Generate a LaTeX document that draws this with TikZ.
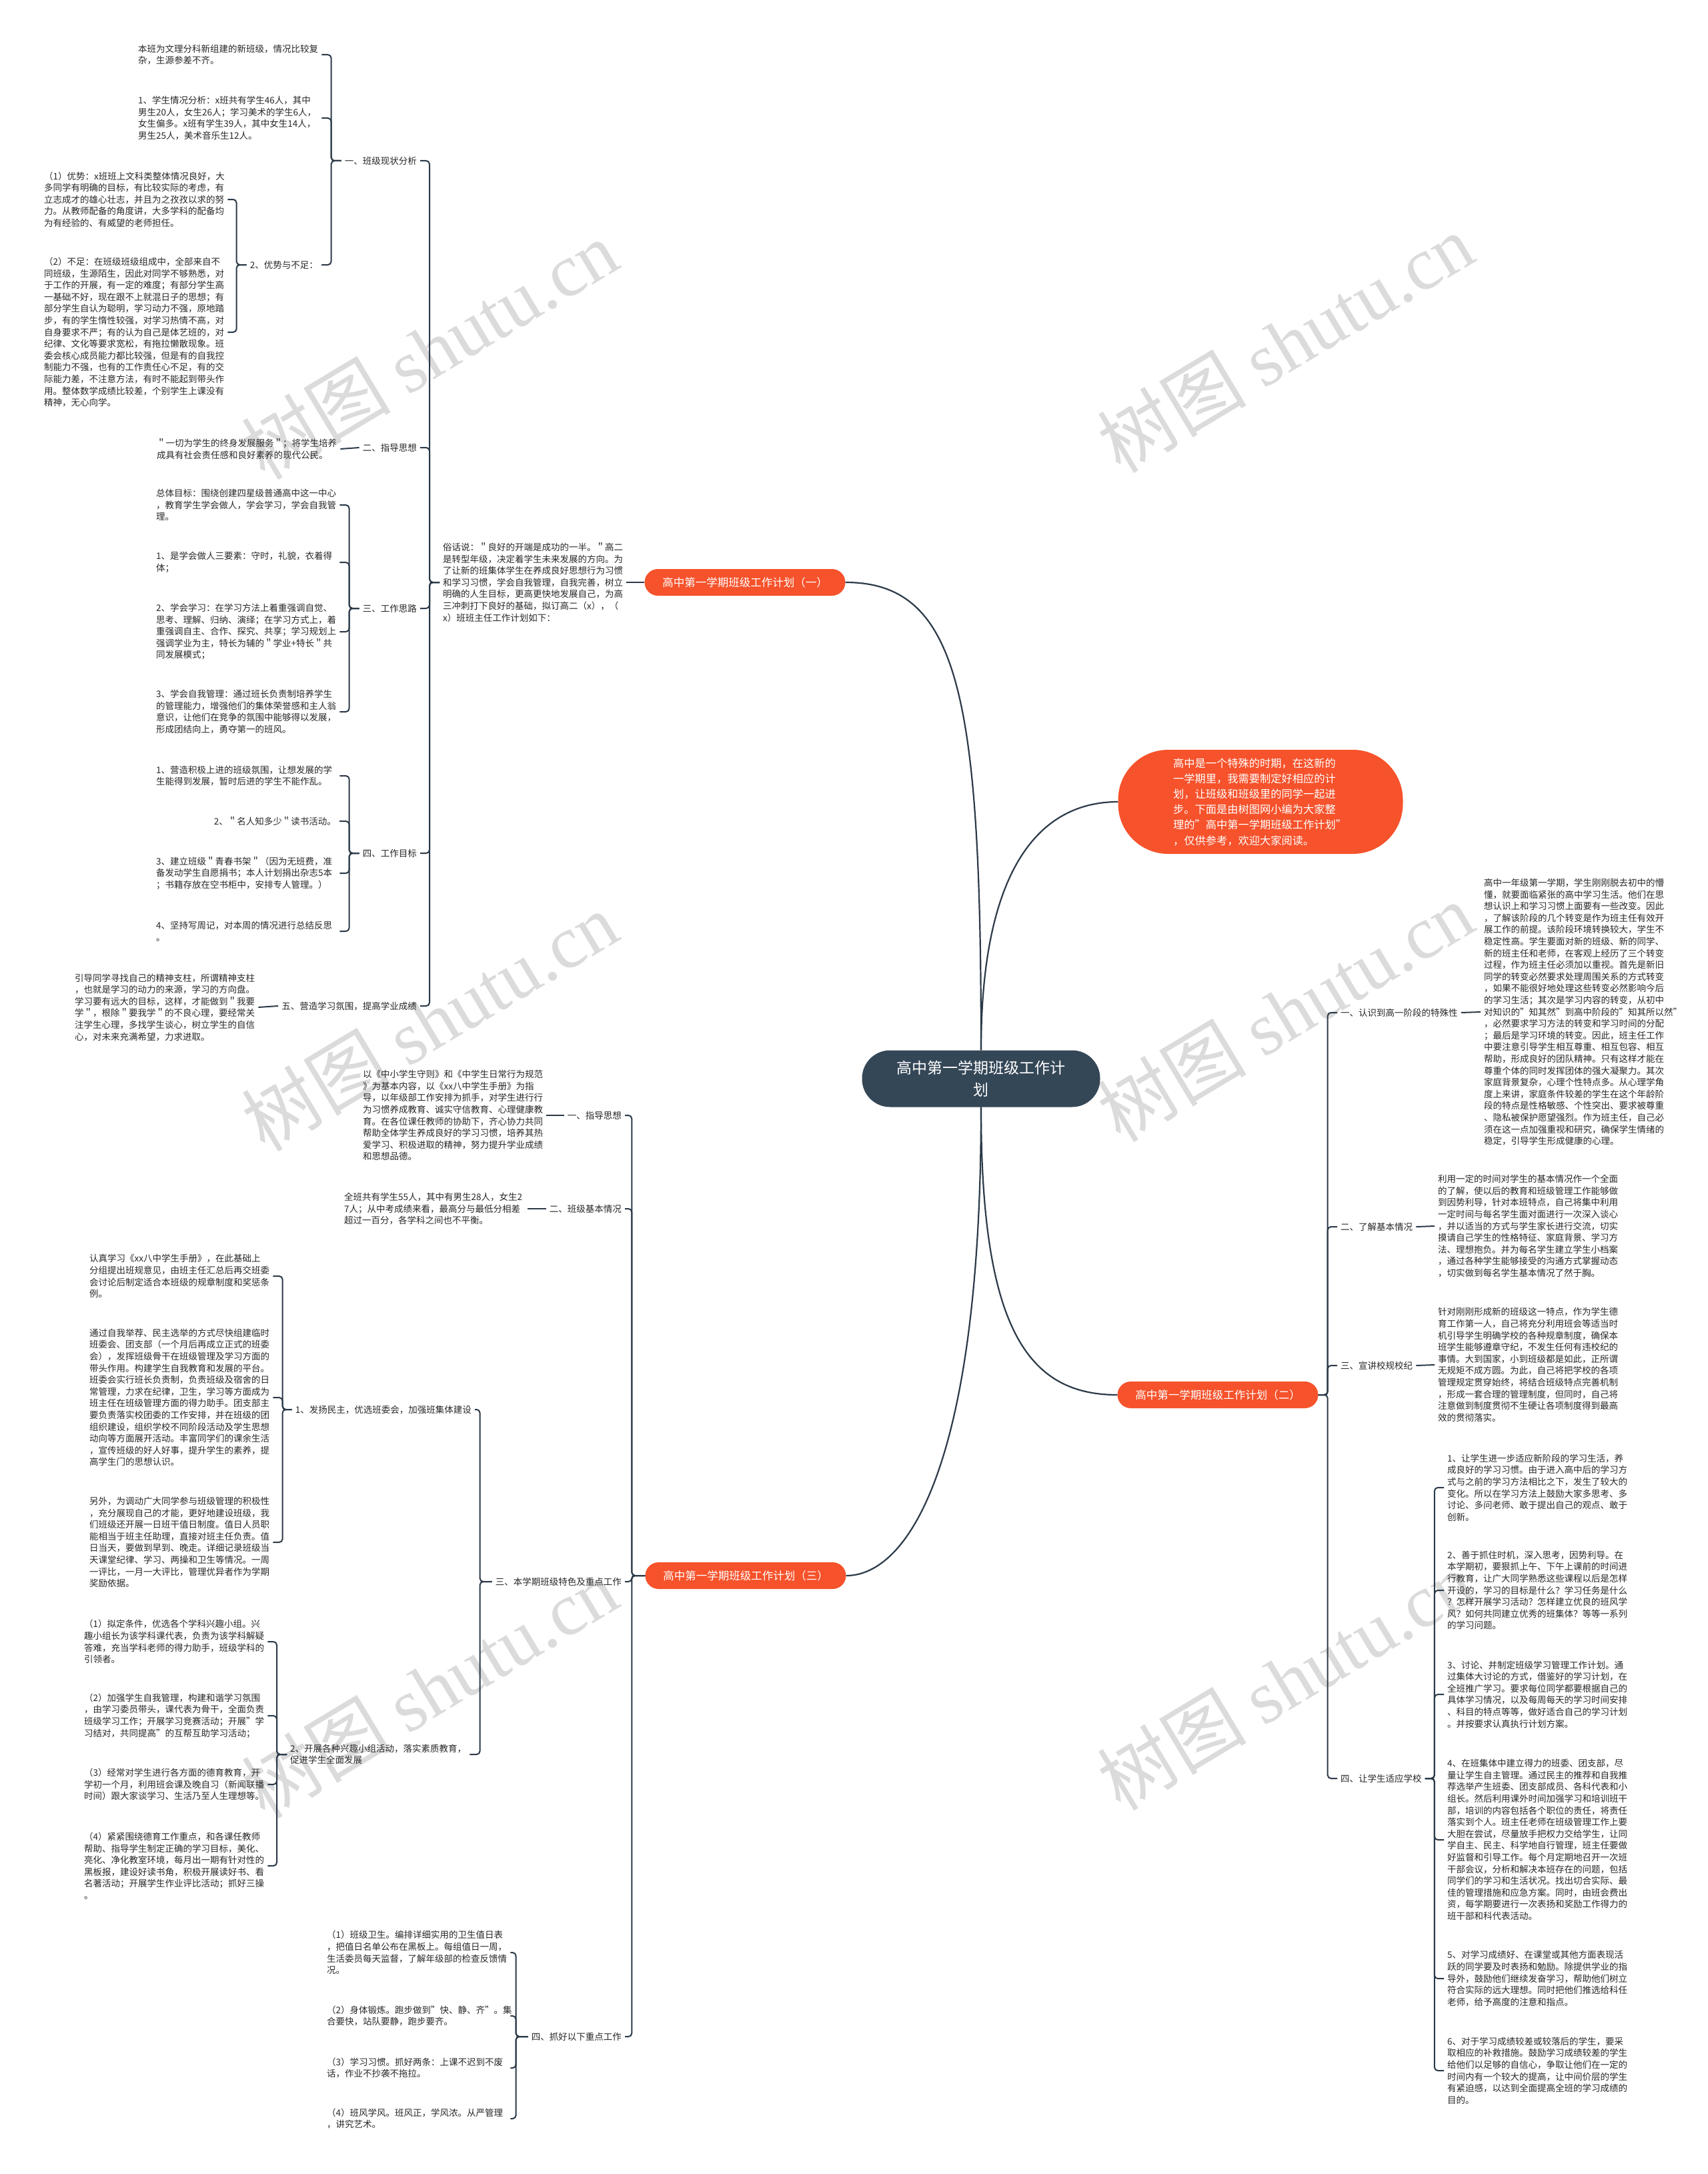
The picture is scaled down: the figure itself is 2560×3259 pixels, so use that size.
\documentclass[tikz,border=0pt]{standalone}
\usepackage{fontspec}
\setmainfont{Noto Sans CJK SC}
\newfontfamily\wmfont{Liberation Serif}
\usepackage{xcolor}
\usepackage{tikz}
\usetikzlibrary{positioning}
\definecolor{mapline}{RGB}{44,58,72}
\definecolor{rootfill}{RGB}{52,71,87}
\definecolor{mainorange}{RGB}{246,82,43}
\definecolor{bodytext}{RGB}{40,40,40}
\newcommand{\txtfont}{\fontsize{13.5}{17.6}\selectfont}
\tikzset{
  rootnode/.style={fill=rootfill,text=white,rounded corners=42pt,minimum width=357pt,minimum height=85pt,align=center,font=\fontsize{23}{32.5}\selectfont},
  mainnode/.style={fill=mainorange,text=white,rounded corners=20pt,minimum width=301pt,minimum height=40pt,font=\fontsize{16.5}{20}\selectfont},
  introbox/.style={fill=mainorange,text=white,rounded corners=75pt,minimum width=427pt,minimum height=156pt,text width=262pt,align=left,font=\fontsize{16.25}{23.2}\selectfont},
  sect/.style={inner sep=5pt,text=bodytext,font=\txtfont,align=left},
  para/.style={sect,text width=270pt},
  tie/.style={draw=mapline,line width=2pt,rounded corners=5pt},
  curve/.style={draw=mapline,line width=2.2pt},
  wmark/.style={text=gray!28,font=\fontsize{112}{112}\selectfont,rotate=31,inner sep=0pt}
}

\begin{document}
\begin{tikzpicture}[x=1pt,y=-1pt]
\useasboundingbox[fill=white] (0,0) rectangle (2560,3259);

\foreach \wx/\wy [count=\i] in {644/524,1927/514,644/1531,1927/1517,644/2531,1927/2519}
  \node[wmark] (wm\i) at (\wx,\wy) {树图 {\wmfont shutu.cn}};

\node[rootnode] (root) at (1471,1617) {高中第一学期班级工作计\\划};
\node[mainnode] (p1) at (1117,873) {高中第一学期班级工作计划（一）};
\node[mainnode] (p2) at (1826,2091) {高中第一学期班级工作计划（二）};
\node[mainnode] (p3) at (1118,2362) {高中第一学期班级工作计划（三）};
\node[introbox] (intro) at (1890,1202)
  {高中是一个特殊的时期，在这新的\\一学期里，我需要制定好相应的计\\划，让班级和班级里的同学一起进\\步。下面是由树图网小编为大家整\\理的"高中第一学期班级工作计划"\\，仅供参考，欢迎大家阅读。};

\draw[curve] (root.north) .. controls (1471,1050) and (1440,873) .. (p1.east);
\draw[curve] (root.north) .. controls (1471,1300) and (1560,1202) .. (intro.west);
\draw[curve] (root.south) .. controls (1471,1990) and (1540,2091) .. (p2.west);
\draw[curve] (root.south) .. controls (1471,2200) and (1360,2362) .. (p3.east);

\node[para,anchor=west] (p1t) at (659,873)
  {俗话说：＂良好的开端是成功的一半。＂高二\\是转型年级，决定着学生未来发展的方向。为\\了让新的班集体学生在养成良好思想行为习惯\\和学习习惯，学会自我管理，自我完善，树立\\明确的人生目标，更高更快地发展自己，为高\\三冲刺打下良好的基础，拟订高二（x），（\\x）班班主任工作计划如下：};
\draw[tie] (p1.west) -- (p1t.east);

\node[sect,anchor=east] (p1s1) at (630,241) {一、班级现状分析};
\node[sect,anchor=east] (p1s2) at (630,671) {二、指导思想};
\node[sect,anchor=east] (p1s3) at (630,912) {三、工作思路};
\node[sect,anchor=east] (p1s4) at (630,1279) {四、工作目标};
\node[sect,anchor=east] (p1s5) at (630,1508) {五、营造学习氛围，提高学业成绩};
\foreach \c in {p1s1,p1s2,p1s3,p1s4,p1s5}
  \draw[tie] (p1t.west) -- ++(-15,0) |- (\c.east);

\node[para,anchor=west] (s1a) at (202,82)
  {本班为文理分科新组建的新班级，情况比较复\\杂，生源参差不齐。};
\node[para,anchor=west] (s1b) at (202,177)
  {1、学生情况分析：x班共有学生46人，其中\\男生20人，女生26人；学习美术的学生6人，\\女生偏多。x班有学生39人，其中女生14人，\\男生25人，美术音乐生12人。};
\node[sect,anchor=east] (s1c) at (482,397) {2、优势与不足：};
\foreach \c in {s1a,s1b,s1c}
  \draw[tie] (p1s1.west) -- ++(-15,0) |- (\c.east);

\node[para,anchor=west] (s1c1) at (61,299)
  {（1）优势：x班班上文科类整体情况良好，大\\多同学有明确的目标，有比较实际的考虑，有\\立志成才的雄心壮志，并且为之孜孜以求的努\\力。从教师配备的角度讲，大多学科的配备均\\为有经验的、有威望的老师担任。};
\node[para,anchor=west] (s1c2) at (61,498)
  {（2）不足：在班级班级组成中，全部来自不\\同班级，生源陌生，因此对同学不够熟悉，对\\于工作的开展，有一定的难度；有部分学生高\\一基础不好，现在跟不上就混日子的思想；有\\部分学生自认为聪明，学习动力不强，原地踏\\步，有的学生惰性较强，对学习热情不高，对\\自身要求不严；有的认为自己是体艺班的，对\\纪律、文化等要求宽松，有拖拉懒散现象。班\\委会核心成员能力都比较强，但是有的自我控\\制能力不强，也有的工作责任心不足，有的交\\际能力差，不注意方法，有时不能起到带头作\\用。整体数学成绩比较差，个别学生上课没有\\精神，无心向学。};
\foreach \c in {s1c1,s1c2}
  \draw[tie] (s1c.west) -- ++(-15,0) |- (\c.east);

\node[para,anchor=west] (s2a) at (230,673)
  {＂一切为学生的终身发展服务＂；将学生培养\\成具有社会责任感和良好素养的现代公民。};
\draw[tie] (p1s2.west) -- (s2a.east);

\node[para,anchor=west] (s3a) at (229,757)
  {总体目标：围绕创建四星级普通高中这一中心\\，教育学生学会做人，学会学习，学会自我管\\理。};
\node[para,anchor=west] (s3b) at (229,843)
  {1、是学会做人三要素：守时，礼貌，衣着得\\体；};
\node[para,anchor=west] (s3c) at (229,947)
  {2、学会学习：在学习方法上着重强调自觉、\\思考、理解、归纳、演绎；在学习方式上，着\\重强调自主、合作、探究、共享；学习规划上\\强调学业为主，特长为辅的＂学业+特长＂共\\同发展模式；};
\node[para,anchor=west] (s3d) at (229,1067)
  {3、学会自我管理：通过班长负责制培养学生\\的管理能力，增强他们的集体荣誉感和主人翁\\意识，让他们在竞争的氛围中能够得以发展，\\形成团结向上，勇夺第一的班风。};
\foreach \c in {s3a,s3b,s3c,s3d}
  \draw[tie] (p1s3.west) -- ++(-15,0) |- (\c.east);

\node[para,anchor=west] (s4a) at (229,1163)
  {1、营造积极上进的班级氛围，让想发展的学\\生能得到发展，暂时后进的学生不能作乱。};
\node[sect,anchor=east] (s4b) at (509,1231) {2、＂名人知多少＂读书活动。};
\node[para,anchor=west] (s4c) at (229,1309)
  {3、建立班级＂青春书架＂（因为无班费，准\\备发动学生自愿捐书；本人计划捐出杂志5本\\；书籍存放在空书柜中，安排专人管理。）};
\node[para,anchor=west] (s4d) at (229,1396)
  {4、坚持写周记，对本周的情况进行总结反思\\。};
\foreach \c in {s4a,s4b,s4c,s4d}
  \draw[tie] (p1s4.west) -- ++(-15,0) |- (\c.east);

\node[para,anchor=west] (s5a) at (107,1510)
  {引导同学寻找自己的精神支柱，所谓精神支柱\\，也就是学习的动力的来源，学习的方向盘。\\学习要有远大的目标，这样，才能做到＂我要\\学＂，根除＂要我学＂的不良心理，要经常关\\注学生心理，多找学生谈心，树立学生的自信\\心，对未来充满希望，力求进取。};
\draw[tie] (p1s5.west) -- (s5a.east);

\node[sect,anchor=west] (p2s1) at (2005,1518) {一、认识到高一阶段的特殊性};
\node[sect,anchor=west] (p2s2) at (2005,1839) {二、了解基本情况};
\node[sect,anchor=west] (p2s3) at (2005,2047) {三、宣讲校规校纪};
\node[sect,anchor=west] (p2s4) at (2005,2666) {四、让学生适应学校};
\foreach \c in {p2s1,p2s2,p2s3,p2s4}
  \draw[tie] (p2.east) -- ++(14,0) |- (\c.west);

\node[para,anchor=west] (p2s1t) at (2220,1517)
  {高中一年级第一学期，学生刚刚脱去初中的懵\\懂，就要面临紧张的高中学习生活。他们在思\\想认识上和学习习惯上面要有一些改变。因此\\，了解该阶段的几个转变是作为班主任有效开\\展工作的前提。该阶段环境转换较大，学生不\\稳定性高。学生要面对新的班级、新的同学、\\新的班主任和老师，在客观上经历了三个转变\\过程，作为班主任必须加以重视。首先是新旧\\同学的转变必然要求处理周围关系的方式转变\\，如果不能很好地处理这些转变必然影响今后\\的学习生活；其次是学习内容的转变，从初中\\对知识的"知其然"到高中阶段的"知其所以然"\\，必然要求学习方法的转变和学习时间的分配\\；最后是学习环境的转变。因此，班主任工作\\中要注意引导学生相互尊重、相互包容、相互\\帮助，形成良好的团队精神。只有这样才能在\\尊重个体的同时发挥团体的强大凝聚力。其次\\家庭背景复杂，心理个性特点多。从心理学角\\度上来讲，家庭条件较差的学生在这个年龄阶\\段的特点是性格敏感、个性突出、要求被尊重\\、隐私被保护愿望强烈。作为班主任，自己必\\须在这一点加强重视和研究，确保学生情绪的\\稳定，引导学生形成健康的心理。};
\draw[tie] (p2s1.east) -- (p2s1t.west);

\node[para,anchor=west] (p2s2t) at (2151,1838)
  {利用一定的时间对学生的基本情况作一个全面\\的了解，使以后的教育和班级管理工作能够做\\到因势利导，针对本班特点，自己将集中利用\\一定时间与每名学生面对面进行一次深入谈心\\，并以适当的方式与学生家长进行交流，切实\\摸请自己学生的性格特征、家庭背景、学习方\\法、理想抱负。并为每名学生建立学生小档案\\，通过各种学生能够接受的沟通方式掌握动态\\，切实做到每名学生基本情况了然于胸。};
\draw[tie] (p2s2.east) -- (p2s2t.west);

\node[para,anchor=west] (p2s3t) at (2151,2046)
  {针对刚刚形成新的班级这一特点，作为学生德\\育工作第一人，自己将充分利用班会等适当时\\机引导学生明确学校的各种规章制度，确保本\\班学生能够遵章守纪，不发生任何有违校纪的\\事情。大到国家，小到班级都是如此，正所谓\\无规矩不成方圆。为此，自己将把学校的各项\\管理规定贯穿始终，将结合班级特点完善机制\\，形成一套合理的管理制度，但同时，自己将\\注意做到制度贯彻不生硬让各项制度得到最高\\效的贯彻落实。};
\draw[tie] (p2s3.east) -- (p2s3t.west);

\node[para,anchor=west] (g1) at (2165,2230)
  {1、让学生进一步适应新阶段的学习生活，养\\成良好的学习习惯。由于进入高中后的学习方\\式与之前的学习方法相比之下，发生了较大的\\变化。所以在学习方法上鼓励大家多思考、多\\讨论、多问老师、敢于提出自己的观点、敢于\\创新。};
\node[para,anchor=west] (g2) at (2165,2384)
  {2、善于抓住时机，深入思考，因势利导。在\\本学期初，要狠抓上午、下午上课前的时间进\\行教育，让广大同学熟悉这些课程以后是怎样\\开设的，学习的目标是什么？学习任务是什么\\？怎样开展学习活动？怎样建立优良的班风学\\风？如何共同建立优秀的班集体？等等一系列\\的学习问题。};
\node[para,anchor=west] (g3) at (2165,2540)
  {3、讨论、并制定班级学习管理工作计划。通\\过集体大讨论的方式，借鉴好的学习计划，在\\全班推广学习。要求每位同学都要根据自己的\\具体学习情况，以及每周每天的学习时间安排\\、科目的特点等等，做好适合自己的学习计划\\。并按要求认真执行计划方案。};
\node[para,anchor=west] (g4) at (2165,2758)
  {4、在班集体中建立得力的班委、团支部，尽\\量让学生自主管理。通过民主的推荐和自我推\\荐选举产生班委、团支部成员、各科代表和小\\组长。然后利用课外时间加强学习和培训班干\\部，培训的内容包括各个职位的责任，将责任\\落实到个人。班主任老师在班级管理工作上要\\大胆在尝试，尽量放手把权力交给学生，让同\\学自主、民主、科学地自行管理，班主任要做\\好监督和引导工作。每个月定期地召开一次班\\干部会议，分析和解决本班存在的问题，包括\\同学们的学习和生活状况。找出切合实际、最\\佳的管理措施和应急方案。同时，由班会费出\\资，每学期要进行一次表扬和奖励工作得力的\\班干部和科代表活动。};
\node[para,anchor=west] (g5) at (2165,2966)
  {5、对学习成绩好、在课堂或其他方面表现活\\跃的同学要及时表扬和勉励。除提供学业的指\\导外，鼓励他们继续发奋学习，帮助他们树立\\符合实际的远大理想。同时把他们推选给科任\\老师，给予高度的注意和指点。};
\node[para,anchor=west] (g6) at (2165,3104)
  {6、对于学习成绩较差或较落后的学生，要采\\取相应的补救措施。鼓励学习成绩较差的学生\\给他们以足够的自信心，争取让他们在一定的\\时间内有一个较大的提高，让中间价层的学生\\有紧迫感，以达到全面提高全班的学习成绩的\\目的。};
\foreach \c in {g1,g2,g3,g4,g5,g6}
  \draw[tie] (p2s4.east) -- ++(14,0) |- (\c.west);

\node[sect,anchor=east] (p3s1) at (937,1672) {一、指导思想};
\node[sect,anchor=east] (p3s2) at (937,1812) {二、班级基本情况};
\node[sect,anchor=east] (p3s3) at (937,2371) {三、本学期班级特色及重点工作};
\node[sect,anchor=east] (p3s4) at (937,3053) {四、抓好以下重点工作};
\foreach \c in {p3s1,p3s2,p3s3,p3s4}
  \draw[tie] (p3.west) -- ++(-20,0) |- (\c.east);

\node[para,anchor=west] (p3s1t) at (539,1672)
  {以《中小学生守则》和《中学生日常行为规范\\》为基本内容，以《xx八中学生手册》为指\\导，以年级部工作安排为抓手，对学生进行行\\为习惯养成教育、诚实守信教育、心理健康教\\育。在各位课任教师的协助下，齐心协力共同\\帮助全体学生养成良好的学习习惯，培养其热\\爱学习、积极进取的精神，努力提升学业成绩\\和思想品德。};
\draw[tie] (p3s1t.east) -- (p3s1.west);

\node[para,anchor=west] (p3s2t) at (511,1812)
  {全班共有学生55人，其中有男生28人，女生2\\7人；从中考成绩来看，最高分与最低分相差\\超过一百分，各学科之间也不平衡。};
\draw[tie] (p3s2t.east) -- (p3s2.west);

\node[sect,anchor=east] (p3j) at (712,2113) {1、发扬民主，优选班委会，加强班集体建设};
\node[sect,anchor=west] (p3k) at (430,2630) {2、开展各种兴趣小组活动，落实素质教育，\\促进学生全面发展};
\foreach \c in {p3j,p3k}
  \draw[tie] (p3s3.west) -- ++(-18,0) |- (\c.east);

\node[para,anchor=west] (j1) at (129,1913)
  {认真学习《xx八中学生手册》，在此基础上\\分组提出班规意见，由班主任汇总后再交班委\\会讨论后制定适合本班级的规章制度和奖惩条\\例。};
\node[para,anchor=west] (j2) at (129,2095)
  {通过自我举荐、民主选举的方式尽快组建临时\\班委会、团支部（一个月后再成立正式的班委\\会），发挥班级骨干在班级管理及学习方面的\\带头作用。构建学生自我教育和发展的平台。\\班委会实行班长负责制，负责班级及宿舍的日\\常管理，力求在纪律，卫生，学习等方面成为\\班主任在班级管理方面的得力助手。团支部主\\要负责落实校团委的工作安排，并在班级的团\\组织建设，组织学校不同阶段活动及学生思想\\动向等方面展开活动。丰富同学们的课余生活\\，宣传班级的好人好事，提升学生的素养，提\\高学生门的思想认识。};
\node[para,anchor=west] (j3) at (129,2312)
  {另外，为调动广大同学参与班级管理的积极性\\，充分展现自己的才能，更好地建设班级，我\\们班级还开展一日班干值日制度。值日人员职\\能相当于班主任助理，直接对班主任负责。值\\日当天，要做到早到、晚走。详细记录班级当\\天课堂纪律、学习、两操和卫生等情况。一周\\一评比，一月一大评比，管理优异者作为学期\\奖励依据。};
\foreach \c in {j1,j2,j3}
  \draw[tie] (p3j.west) -- ++(-14,0) |- (\c.east);

\node[para,anchor=west] (k1) at (121,2461)
  {（1）拟定条件，优选各个学科兴趣小组。兴\\趣小组长为该学科课代表，负责为该学科解疑\\答难，充当学科老师的得力助手，班级学科的\\引领者。};
\node[para,anchor=west] (k2) at (121,2572)
  {（2）加强学生自我管理，构建和谐学习氛围\\，由学习委员带头，课代表为骨干，全面负责\\班级学习工作；开展学习竞赛活动；开展"学\\习结对，共同提高"的互帮互助学习活动；};
\node[para,anchor=west] (k3) at (121,2675)
  {（3）经常对学生进行各方面的德育教育，开\\学初一个月，利用班会课及晚自习（新闻联播\\时间）跟大家谈学习、生活乃至人生理想等。};
\node[para,anchor=west] (k4) at (121,2797)
  {（4）紧紧围绕德育工作重点，和各课任教师\\帮助、指导学生制定正确的学习目标，美化、\\亮化、净化教室环境，每月出一期有针对性的\\黑板报，建设好读书角，积极开展读好书、看\\名著活动；开展学生作业评比活动；抓好三操\\。};
\foreach \c in {k1,k2,k3,k4}
  \draw[tie] (p3k.west) -- ++(-15,0) |- (\c.east);

\node[para,anchor=west] (l1) at (485,2927)
  {（1）班级卫生。编排详细实用的卫生值日表\\，把值日名单公布在黑板上。每组值日一周，\\生活委员每天监督，了解年级部的检查反馈情\\况。};
\node[para,anchor=west] (l2) at (485,3022)
  {（2）身体锻炼。跑步做到"快、静、齐"。集\\合要快，站队要静，跑步要齐。};
\node[para,anchor=west] (l3) at (485,3100)
  {（3）学习习惯。抓好两条：上课不迟到不废\\话，作业不抄袭不拖拉。};
\node[para,anchor=west] (l4) at (485,3176)
  {（4）班风学风。班风正，学风浓。从严管理\\，讲究艺术。};
\foreach \c in {l1,l2,l3,l4}
  \draw[tie] (p3s4.west) -- ++(-18,0) |- (\c.east);

\end{tikzpicture}
\end{document}
